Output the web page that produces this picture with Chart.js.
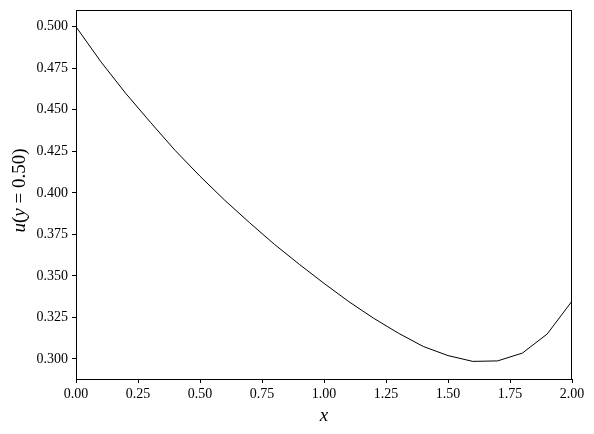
<!DOCTYPE html>
<html>
<head>
<meta charset="utf-8">
<script src="https://cdn.jsdelivr.net/npm/chart.js@4.4.0/dist/chart.umd.min.js"></script>
<style>
  html, body { margin: 0; padding: 0; background: #fff; }
  #wrap { width: 594px; height: 434px; }
</style>
</head>
<body>
<div id="wrap"><canvas id="plot" width="594" height="434"></canvas></div>
<script>
'use strict';

// values
const xValues = [0.0, 0.1, 0.2, 0.3, 0.4, 0.5, 0.6, 0.7, 0.8, 0.9, 1.0,
                 1.1, 1.2, 1.3, 1.4, 1.5, 1.6, 1.7, 1.8, 1.9, 2.0];
const uValues = [0.500, 0.479, 0.460, 0.4425, 0.4255, 0.410, 0.3955, 0.382, 0.369, 0.357, 0.3455,
                 0.3345, 0.3245, 0.3155, 0.3075, 0.302, 0.2985, 0.2988, 0.3035, 0.315, 0.3348];
const xTicks = [0, 0.25, 0.5, 0.75, 1.0, 1.25, 1.5, 1.75, 2.0];
const yTicks = [0.300, 0.325, 0.350, 0.375, 0.400, 0.425, 0.450, 0.475, 0.500];

const serif = '"Liberation Serif", "DejaVu Serif", serif';

// box round the plot, like matplotlib's spines
const framePlugin = {
  id: 'frame',
  afterDatasetsDraw(chart) {
    const a = chart.chartArea;
    const ctx = chart.ctx;
    ctx.save();
    ctx.strokeStyle = '#000';
    ctx.lineWidth = 1;
    ctx.strokeRect(Math.round(a.left) + 0.5, Math.round(a.top) + 0.5,
                   Math.round(a.right - a.left) - 1, Math.round(a.bottom - a.top));
    ctx.restore();
  }
};

// y label has italic letters and an upright number
const yLabelPlugin = {
  id: 'ylabel',
  afterDraw(chart) {
    const a = chart.chartArea;
    const ctx = chart.ctx;
    const parts = [
      ['italic 19px ' + serif, 'u'],
      ['19px ' + serif, '('],
      ['italic 19px ' + serif, 'y'],
      ['19px ' + serif, ' = 0.50)']
    ];
    ctx.save();
    ctx.fillStyle = '#000';
    let total = 0;
    parts.forEach(p => { ctx.font = p[0]; total += ctx.measureText(p[1]).width; });
    ctx.translate(25, (a.top + a.bottom) / 2 - 4);
    ctx.rotate(-Math.PI / 2);
    ctx.textBaseline = 'alphabetic';
    let x = -total / 2;
    parts.forEach(p => {
      ctx.font = p[0];
      ctx.fillText(p[1], x, 0);
      x += ctx.measureText(p[1]).width;
    });
    ctx.restore();
  }
};

const points = xValues.map((x, i) => ({ x: x, y: uValues[i] }));

new Chart(document.getElementById('plot'), {
  type: 'line',
  data: {
    datasets: [{
      data: points,
      borderColor: '#000',
      borderWidth: 1,
      pointRadius: 0,
      tension: 0,
      fill: false
    }]
  },
  options: {
    responsive: false,
    animation: false,
    devicePixelRatio: 1,
    layout: { padding: { left: 0, right: 22, top: 10, bottom: 0 } },
    plugins: {
      legend: { display: false },
      tooltip: { enabled: false }
    },
    scales: {
      x: {
        type: 'linear',
        min: 0,
        max: 2,
        afterBuildTicks: s => { s.ticks = xTicks.map(v => ({ value: v })); },
        afterFit: s => { s.height = 55; },
        grid: { drawOnChartArea: false, drawTicks: true, tickLength: 4, color: '#000' },
        border: { display: true, color: '#000' },
        ticks: {
          color: '#000',
          padding: 3,
          maxRotation: 0,
          font: { family: serif, size: 14 },
          callback: v => Number(v).toFixed(2)
        },
        title: {
          display: true,
          text: 'x',
          color: '#000',
          padding: { top: 2, bottom: 7 },
          font: { family: serif, size: 19, style: 'italic' }
        }
      },
      y: {
        type: 'linear',
        min: 0.2879,
        max: 0.5101,
        afterBuildTicks: s => { s.ticks = yTicks.map(v => ({ value: v })); },
        afterFit: s => { s.width = 76; s.paddingTop = 0; s.paddingBottom = 0; },
        grid: { drawOnChartArea: false, drawTicks: true, tickLength: 4, color: '#000' },
        border: { display: true, color: '#000' },
        ticks: {
          color: '#000',
          padding: 4,
          font: { family: serif, size: 14 },
          callback: v => Number(v).toFixed(3)
        }
      }
    }
  },
  plugins: [framePlugin, yLabelPlugin]
});
</script>
</body>
</html>
